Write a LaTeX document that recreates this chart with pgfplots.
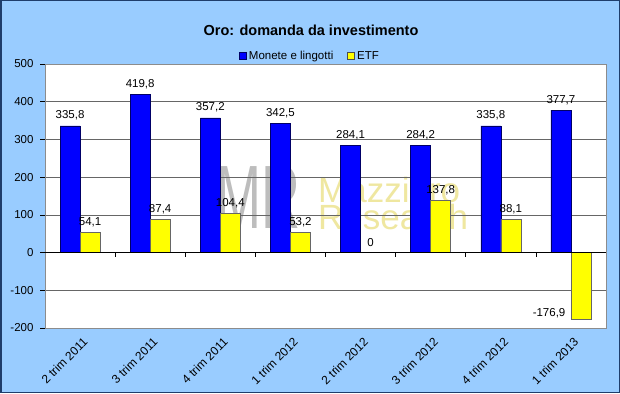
\documentclass[border=0pt]{standalone}
\usepackage{pgfplots}
\pgfplotsset{compat=1.18}
\usepackage{fontspec}
\setmainfont{Liberation Sans}
\definecolor{bgblue}{HTML}{99CCFF}
\definecolor{frameblue}{HTML}{1F3D6B}
\definecolor{barblue}{HTML}{0000FF}
\definecolor{baryellow}{HTML}{FFFF00}
\definecolor{wmyellow}{HTML}{EFE7A0}
\definecolor{wmgray}{HTML}{BDBDBD}
\begin{document}
\begin{tikzpicture}[x=1pt,y=1pt]
\useasboundingbox (0,0) rectangle (620,393);
\fill[bgblue] (0,0) rectangle (620,393);
\draw[frameblue, line width=1.5pt] (0.75,0.75) rectangle (619.25,392.25);
\fill[white] (45,65) rectangle (606,329);
% watermark
\node[anchor=south west, inner sep=0pt, text=wmgray, xscale=0.6, font=\fontsize{90}{90}\selectfont] at (216,164) {MR};
\node[anchor=base west, inner sep=0pt, text=wmyellow, font=\fontsize{35}{35}\selectfont] at (318,190) {Mazziero};
\node[anchor=base west, inner sep=0pt, text=wmyellow, font=\fontsize{35}{35}\selectfont] at (318,163) {Research};
% title
\node[font=\fontsize{14.5}{16}\selectfont\bfseries] at (311,363) {Oro: domanda da investimento};
\begin{axis}[
  at={(45pt,65pt)}, anchor=south west,
  scale only axis, width=561pt, height=264pt,
  xmin=-0.5, xmax=7.5, ymin=-200, ymax=500,
  ytick={-200,-100,0,100,200,300,400,500},
  xtick={0,1,2,3,4,5,6,7},
  xticklabels={2 trim 2011,3 trim 2011,4 trim 2011,1 trim 2012,2 trim 2012,3 trim 2012,4 trim 2012,1 trim 2013},
  xtick style={draw=none},
  ytick pos=left,
  xtick pos=bottom,
  tick align=outside,
  major tick length=5pt,
  ytick style={black, line width=0.6pt},
  xticklabel style={rotate=45, anchor=north east, inner sep=1pt, yshift=-3pt, font=\fontsize{12}{14}\selectfont},
  yticklabel style={font=\fontsize{11.5}{13}\selectfont, xshift=-3pt},
  /pgf/number format/assume math mode=true,
  /pgf/number format/.cd, use comma, fixed, precision=1, 1000 sep={},
  /pgfplots/.cd,
  ymajorgrids,
  grid style={black!60, line width=0.6pt},
  axis line style={black!45, line width=0.6pt},
  ybar, bar width=20pt,
  nodes near coords,
  every node near coord/.append style={font=\fontsize{11.5}{13}\selectfont, text=black, yshift=2pt},
  legend style={at={(0.4724,1.03)}, anchor=center, draw=none, fill=none, legend columns=2,
    font=\fontsize{11.5}{13}\selectfont,
    /tikz/every even column/.append style={column sep=12pt}},
]
\addplot[fill=barblue, draw=blue!40!black, line width=0.5pt, bar shift=-10pt,
  legend image code/.code={\draw[fill=barblue, draw=blue!40!black, line width=0.8pt] (0pt,-3.5pt) rectangle (7pt,3.5pt);}]
  coordinates {(0,335.8) (1,419.8) (2,357.2) (3,342.5) (4,284.1) (5,284.2) (6,335.8) (7,377.7)};
\addlegendentry{Monete e lingotti}
\addplot[fill=baryellow, draw=black!60, line width=0.5pt, bar shift=10pt,
  legend image code/.code={\draw[fill=baryellow, draw=black!70, line width=0.8pt] (0pt,-3.5pt) rectangle (7pt,3.5pt);}]
  coordinates {(0,54.1) (1,87.4) (2,104.4) (3,53.2) (4,0) (5,137.8) (6,88.1)};
\addlegendentry{ETF}
\addplot[fill=baryellow, draw=black!60, line width=0.5pt, bar shift=10pt, forget plot,
  every node near coord/.append style={anchor=east, xshift=-12pt, yshift=4pt}]
  coordinates {(7,-176.9)};
\draw[black, line width=0.8pt] (axis cs:-0.5,0) -- (axis cs:7.5,0);
\draw[black, line width=0.7pt] (axis cs:0.5,0) -- (axis cs:0.5,-13);
\draw[black, line width=0.7pt] (axis cs:1.5,0) -- (axis cs:1.5,-13);
\draw[black, line width=0.7pt] (axis cs:2.5,0) -- (axis cs:2.5,-13);
\draw[black, line width=0.7pt] (axis cs:3.5,0) -- (axis cs:3.5,-13);
\draw[black, line width=0.7pt] (axis cs:4.5,0) -- (axis cs:4.5,-13);
\draw[black, line width=0.7pt] (axis cs:5.5,0) -- (axis cs:5.5,-13);
\draw[black, line width=0.7pt] (axis cs:6.5,0) -- (axis cs:6.5,-13);
\end{axis}
\end{tikzpicture}
\end{document}
